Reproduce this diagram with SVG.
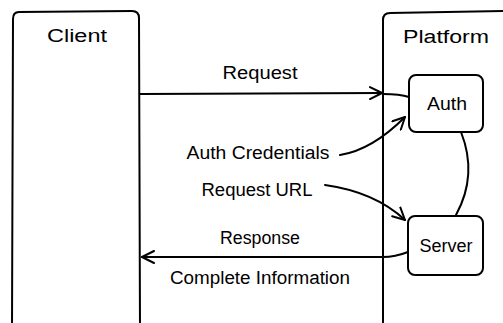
<svg xmlns="http://www.w3.org/2000/svg" width="503" height="323" viewBox="0 0 503 323">
<defs>
<style>
.box{fill:#fff;stroke:#000;stroke-width:2;}
.ln{fill:none;stroke:#000;stroke-width:2;stroke-linecap:round;}
.t{font-family:"Liberation Sans",Arial,sans-serif;font-size:18px;fill:#000;}
</style>
<marker id="ah" viewBox="0 0 14 14" refX="13" refY="7" markerWidth="14" markerHeight="14" markerUnits="userSpaceOnUse" orient="auto">
<path d="M1,1 L13,7 L1,13" fill="none" stroke="#000" stroke-width="2" stroke-linecap="round" stroke-linejoin="round"/>
</marker>
</defs>
<rect width="503" height="323" fill="#fff"/>
<g id="client">
<path class="box" d="M19,12 L132,11 Q139,11 139,18 L140,330 L12,330 L13,19 Q13,12 19,12 Z"/>
<text class="t" x="77" y="42" text-anchor="middle" textLength="60" lengthAdjust="spacingAndGlyphs">Client</text>
</g>
<g id="platform">
<path class="box" d="M390,13 L510,11 L510,330 L383,330 L383,20 Q383,13 390,13 Z"/>
<text class="t" x="446" y="43" text-anchor="middle" textLength="86" lengthAdjust="spacingAndGlyphs">Platform</text>
</g>
<g id="auth">
<rect class="box" x="409" y="75" width="74" height="57" rx="7"/>
<text class="t" x="447" y="110" text-anchor="middle" textLength="40" lengthAdjust="spacingAndGlyphs">Auth</text>
</g>
<g id="server">
<rect class="box" x="408" y="216" width="75" height="59" rx="7"/>
<text class="t" x="446" y="252" text-anchor="middle" textLength="53" lengthAdjust="spacingAndGlyphs">Server</text>
</g>
<g id="connectors">
<path class="ln" d="M140,94 L382,93" marker-end="url(#ah)"/>
<path class="ln" d="M383,94 Q400,94 409,97"/>
<path class="ln" d="M340,155 Q372,150 405,117" marker-end="url(#ah)"/>
<path class="ln" d="M325,185 Q375,192 405,220" marker-end="url(#ah)"/>
<path class="ln" d="M408,252 Q395,257 383,257 L142,257" marker-end="url(#ah)"/>
<path class="ln" d="M461,132 Q478,175 456,215"/>
</g>
<g id="labels">
<text class="t" x="260" y="79" text-anchor="middle" textLength="75" lengthAdjust="spacingAndGlyphs">Request</text>
<text class="t" x="258" y="159" text-anchor="middle" textLength="143" lengthAdjust="spacingAndGlyphs">Auth Credentials</text>
<text class="t" x="257" y="196" text-anchor="middle" textLength="111" lengthAdjust="spacingAndGlyphs">Request URL</text>
<text class="t" x="260" y="244" text-anchor="middle" textLength="80" lengthAdjust="spacingAndGlyphs">Response</text>
<text class="t" x="260" y="284" text-anchor="middle" textLength="180" lengthAdjust="spacingAndGlyphs">Complete Information</text>
</g>
</svg>
